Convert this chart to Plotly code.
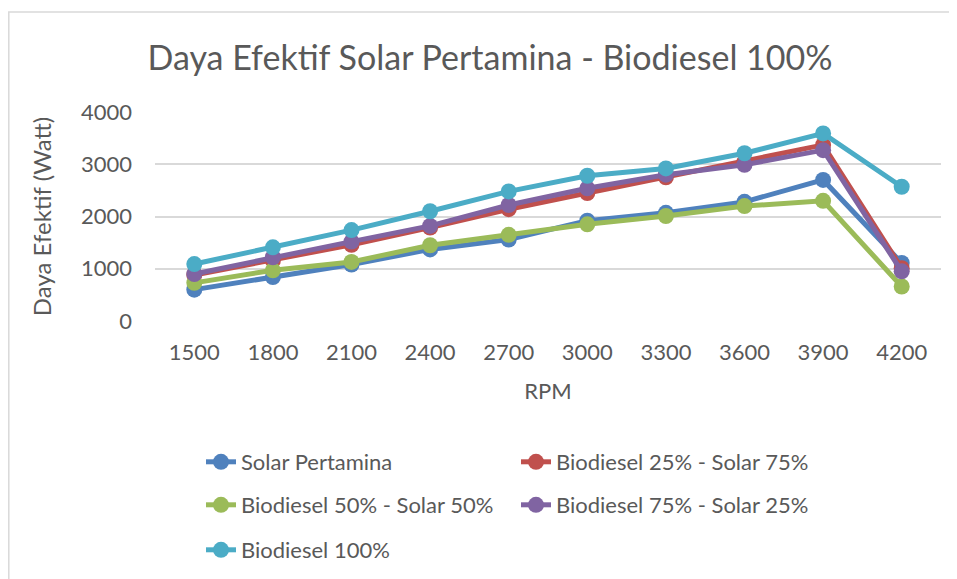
import plotly.graph_objects as go

rpm = ["1500", "1800", "2100", "2400", "2700", "3000", "3300", "3600", "3900", "4200"]
solar_pertamina = [600, 840, 1080, 1370, 1560, 1920, 2070, 2280, 2700, 1110]
bio_25 = [880, 1160, 1460, 1790, 2140, 2450, 2750, 3050, 3370, 1010]
bio_50 = [730, 970, 1130, 1450, 1650, 1850, 2010, 2200, 2300, 660]
bio_75 = [900, 1220, 1520, 1820, 2220, 2540, 2800, 2990, 3270, 950]
bio_100 = [1090, 1410, 1740, 2100, 2480, 2780, 2920, 3210, 3590, 2570]

series = [
    ("Solar Pertamina", solar_pertamina, "#4F81BD", "legend"),
    ("Biodiesel 25% - Solar 75%", bio_25, "#C0504D", "legend"),
    ("Biodiesel 50% - Solar 50%", bio_50, "#9BBB59", "legend2"),
    ("Biodiesel 75% - Solar 25%", bio_75, "#8064A2", "legend2"),
    ("Biodiesel 100%", bio_100, "#4BACC6", "legend3"),
]

W, H = 957, 579
FONT = "Lato"
TXT = "#595959"
FS = 22

# plot area in figure pixels
PL, PR, PT, PB = 147, 933, 104, 313

fig = go.Figure()
for name, vals, col, lg in series:
    fig.add_trace(go.Scatter(
        x=rpm, y=vals, name=name, mode="lines+markers",
        line=dict(color=col, width=5),
        marker=dict(color=col, size=16),
        legend=lg,
    ))

legend_common = dict(
    orientation="h", xref="container", yref="container",
    x=193 / W, xanchor="left", yanchor="middle",
    entrywidth=270, entrywidthmode="pixels",
    font=dict(family=FONT, size=FS, color=TXT),
    bgcolor="rgba(0,0,0,0)", borderwidth=0, traceorder="normal",
)

fig.update_layout(
    width=W, height=H,
    margin=dict(l=PL, r=W - PR, t=PT, b=H - PB),
    paper_bgcolor="white", plot_bgcolor="white",
    font=dict(family=FONT, color=TXT),
    title=dict(
        text="Daya Efektif Solar Pertamina - Biodiesel 100%",
        font=dict(family=FONT, size=34, color=TXT),
        x=482 / W, xanchor="center", xref="container",
        y=1 - 50 / H, yanchor="middle", yref="container",
    ),
    xaxis=dict(
        type="category", range=[-0.5, len(rpm) - 0.5],
        showgrid=False, showline=False, zeroline=False,
        ticks="", tickfont=dict(family=FONT, size=FS, color=TXT),
        ticklabelstandoff=16, automargin=False,
        title=dict(text="RPM", font=dict(family=FONT, size=FS, color=TXT), standoff=19),
    ),
    yaxis=dict(
        range=[0, 4000], dtick=1000, showgrid=True, gridcolor="#d9d9d9", gridwidth=1.5,
        zeroline=False, showline=False, ticks="", automargin=False,
        tickfont=dict(family=FONT, size=FS, color=TXT),
        ticklabelstandoff=22,
        title=dict(text="Daya Efektif (Watt)", font=dict(family=FONT, size=24, color=TXT), standoff=22),
    ),
    legend=dict(legend_common, y=1 - 454 / H),
    legend2=dict(legend_common, y=1 - 497 / H),
    legend3=dict(legend_common, y=1 - 542 / H),
)

pw, ph = PR - PL, PB - PT
fig.add_shape(
    type="rect", xref="paper", yref="paper",
    x0=(0.8 - PL) / pw, x1=(W + 10 - PL) / pw,
    y0=(PB - (H + 10)) / ph, y1=(PB - 4) / ph,
    line=dict(color="#d9d9d9", width=1.5), fillcolor="rgba(0,0,0,0)", layer="below",
)

fig.write_html("out.html")
